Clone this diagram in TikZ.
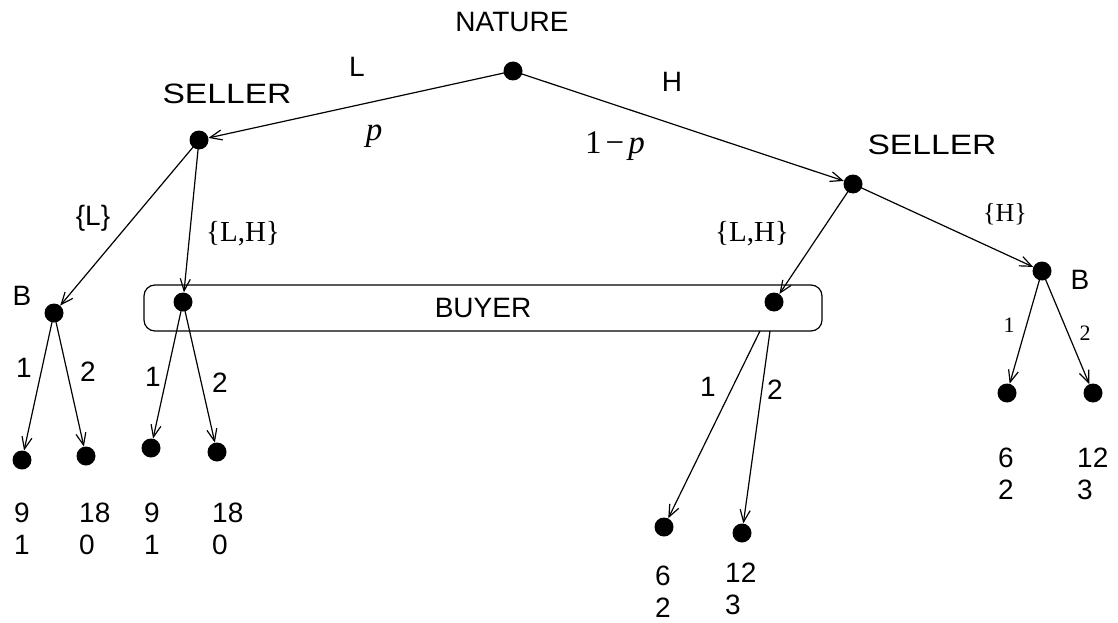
\documentclass[tikz,border=0pt]{standalone}
\usepackage{fontspec}
\setmainfont{Liberation Serif}
\setsansfont{Liberation Sans}
\usetikzlibrary{arrows.meta}
\begin{document}
\begin{tikzpicture}[x=1pt,y=-1pt,
  dot/.style={circle,fill=black,inner sep=0pt,minimum size=19pt},
  sflab/.style={font=\sffamily\fontsize{28}{28}\selectfont,inner sep=0pt},
  rmlab/.style={font=\rmfamily\fontsize{29}{29}\selectfont,inner sep=0pt},
  hlab/.style={font=\rmfamily\fontsize{26}{26}\selectfont,inner sep=0pt},
  smlab/.style={font=\rmfamily\fontsize{22}{22}\selectfont,inner sep=0pt},
  plab/.style={font=\rmfamily\fontsize{33}{33}\selectfont,inner sep=0pt},
  pay/.style={font=\sffamily\fontsize{28}{32}\selectfont,align=left,anchor=west,inner sep=0pt},
  edge/.style={line width=1.2pt,-{Straight Barb[length=12pt,width=10pt,line width=1.2pt]}},
  plain/.style={line width=1.2pt}]
\useasboundingbox (0,0) rectangle (1118,623);
% information set box
\draw[plain,rounded corners=11pt] (144,285) rectangle (822,331);
\node[sflab] (buyer) at (483,308) {BUYER};
% nodes
\node[dot] (n) at (513,71) {};
\node[dot] (sl) at (199,140) {};
\node[dot] (sh) at (853,184) {};
\node[dot] (bl) at (54,313) {};
\node[dot] (ul) at (183,302) {};
\node[dot] (ur) at (774,302) {};
\node[dot] (br) at (1042,271) {};
\node[dot] (l1) at (22,460) {};
\node[dot] (l2) at (86,456) {};
\node[dot] (l3) at (151,448) {};
\node[dot] (l4) at (217,452) {};
\node[dot] (l5) at (664,527) {};
\node[dot] (l6) at (742,533) {};
\node[dot] (l7) at (1007,393) {};
\node[dot] (l8) at (1093,393) {};
\coordinate (ur1) at (760,331);
\coordinate (ur2) at (770,331);
% edges
\draw[edge] (n.center) -- (sl);
\draw[edge] (n.center) -- (sh);
\draw[edge] (sl.center) -- (bl);
\draw[edge] (sl.center) -- (ul);
\draw[edge] (sh.center) -- (ur);
\draw[edge] (sh.center) -- (br);
\draw[edge] (bl.center) -- (l1);
\draw[edge] (bl.center) -- (l2);
\draw[edge] (ul.center) -- (l3);
\draw[edge] (ul.center) -- (l4);
\draw[edge] (ur1) -- (l5);
\draw[edge] (ur2) -- (l6);
\draw[edge] (br.center) -- (l7);
\draw[edge] (br.center) -- (l8);
% labels
\node[sflab] (tn) at (512,22) {NATURE};
\node[sflab] (tsl) at (227,94) {\scalebox{1.2}[1]{SELLER}};
\node[sflab] (tsh) at (932,145) {\scalebox{1.2}[1]{SELLER}};
\node[sflab] (tL) at (357,67) {L};
\node[sflab] (tH) at (672,82) {H};
\node[plab] (tp) at (374,136) {\textit{p}};
\node[plab] (t1p) at (615,146) {1\kern4pt−\kern4pt\textit{p}};
\node[sflab] (tLs) at (93,218) {\{L\}};
\node[rmlab] (tLH1) at (243,234) {\{L,H\}};
\node[rmlab] (tLH2) at (752,234) {\{L,H\}};
\node[hlab] (tHs) at (1005,214) {\{H\}};
\node[sflab] (tB1) at (22,296) {B};
\node[sflab] (tB2) at (1080,280) {B};
\node[sflab] (a1) at (24,368) {1};
\node[sflab] (a2) at (88,372) {2};
\node[sflab] (a3) at (153,377) {1};
\node[sflab] (a4) at (220,383) {2};
\node[sflab] (a5) at (708,387) {1};
\node[sflab] (a6) at (775,390) {2};
\node[smlab] (a7) at (1009,325) {1};
\node[smlab] (a8) at (1085,333) {2};
% payoffs
\node[pay] (p1) at (14,529) {9\\1};
\node[pay] (p2) at (79,529) {18\\0};
\node[pay] (p3) at (144,529) {9\\1};
\node[pay] (p4) at (212,529) {18\\0};
\node[pay] (p5) at (655,592) {6\\2};
\node[pay] (p6) at (725,589) {12\\3};
\node[pay] (p7) at (998,474) {6\\2};
\node[pay] (p8) at (1077,474) {12\\3};
\end{tikzpicture}
\end{document}
